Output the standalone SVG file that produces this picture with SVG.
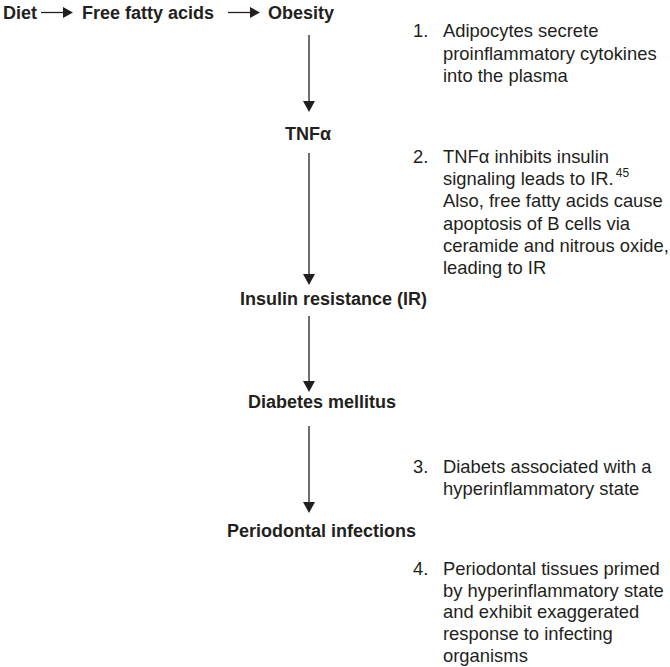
<svg xmlns="http://www.w3.org/2000/svg" width="670" height="667" viewBox="0 0 670 667">
<style>
.b{font-family:"Liberation Sans",Arial,sans-serif;font-weight:bold;font-size:18px;fill:#231f20}
.r{font-family:"Liberation Sans",Arial,sans-serif;font-size:18.4px;fill:#231f20}
.s{font-family:"Liberation Sans",Arial,sans-serif;font-size:12px;fill:#231f20}
.c line{stroke:#231f20;stroke-width:1.3}
.c path{fill:#231f20}
</style>
<rect width="670" height="667" fill="#fff"/>
<g class="c" id="connectors">
<line x1="41" y1="12.5" x2="64" y2="12.5"/><path d="M63,7 L73,12.5 L63,18 Z"/>
<line x1="228" y1="12.5" x2="251" y2="12.5"/><path d="M250,7 L260,12.5 L250,18 Z"/>
<line x1="309" y1="35" x2="309" y2="102"/><path d="M303,101 L315,101 L309,112 Z"/>
<line x1="309" y1="153" x2="309" y2="275"/><path d="M303,274 L315,274 L309,285 Z"/>
<line x1="309" y1="316" x2="309" y2="382"/><path d="M303,381 L315,381 L309,392 Z"/>
<line x1="309" y1="426" x2="309" y2="503"/><path d="M303,502 L315,502 L309,513 Z"/>
</g>
<g id="diet"><text class="b" x="3" y="19">Diet</text></g>
<g id="ffa"><text class="b" x="82" y="19">Free fatty acids</text></g>
<g id="obesity"><text class="b" x="268" y="19">Obesity</text></g>
<g id="tnf"><text class="b" x="285" y="140">TNFα</text></g>
<g id="ir"><text class="b" x="240" y="305">Insulin resistance (IR)</text></g>
<g id="dm"><text class="b" x="248" y="408">Diabetes mellitus</text></g>
<g id="pi"><text class="b" x="227" y="537">Periodontal infections</text></g>
<g id="note1">
<text class="r" x="413" y="37">1.</text>
<text class="r" x="443" y="37">Adipocytes secrete</text>
<text class="r" x="443" y="59.5">proinflammatory cytokines</text>
<text class="r" x="443" y="82">into the plasma</text>
</g>
<g id="note2">
<text class="r" x="413" y="163">2.</text>
<text class="r" x="443" y="163">TNFα inhibits insulin</text>
<text class="r" x="443" y="185.2">signaling leads to IR.<tspan class="s" dx="2" dy="-8">45</tspan></text>
<text class="r" x="443" y="207.4">Also, free fatty acids cause</text>
<text class="r" x="443" y="229.6">apoptosis of B cells via</text>
<text class="r" x="443" y="251.8">ceramide and nitrous oxide,</text>
<text class="r" x="443" y="274">leading to IR</text>
</g>
<g id="note3">
<text class="r" x="413" y="473">3.</text>
<text class="r" x="443" y="473">Diabets associated with a</text>
<text class="r" x="443" y="495">hyperinflammatory state</text>
</g>
<g id="note4">
<text class="r" x="413" y="575">4.</text>
<text class="r" x="443" y="575">Periodontal tissues primed</text>
<text class="r" x="443" y="596.7">by hyperinflammatory state</text>
<text class="r" x="443" y="618.4">and exhibit exaggerated</text>
<text class="r" x="443" y="640">response to infecting</text>
<text class="r" x="443" y="661.8">organisms</text>
</g>
</svg>
